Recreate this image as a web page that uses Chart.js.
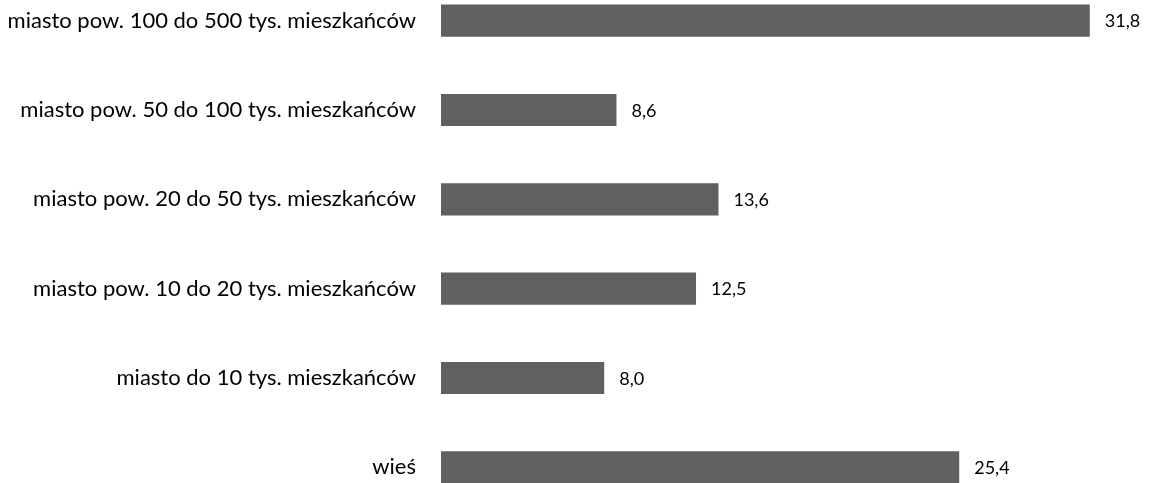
<!DOCTYPE html>
<html>
<head>
<meta charset="utf-8">
<script src="https://cdn.jsdelivr.net/npm/chart.js@4/dist/chart.umd.min.js"></script>
<style>
  html, body { margin: 0; padding: 0; background: #fff; overflow: hidden; }
  #wrap { position: relative; width: 1151px; height: 483px; overflow: hidden; }
  #chart { position: absolute; left: 0; top: -24px; }
</style>
</head>
<body>
<div id="wrap">
  <canvas id="chart" width="1151" height="536"></canvas>
</div>
<script>
// Kategorie i wartości (%)
var categories = [
    'miasto pow. 100 do 500 tys. mieszkańców',
    'miasto pow. 50 do 100 tys. mieszkańców',
    'miasto pow. 20 do 50 tys. mieszkańców',
    'miasto pow. 10 do 20 tys. mieszkańców',
    'miasto do 10 tys. mieszkańców',
    'wieś'
];
var values = [31.8, 8.6, 13.6, 12.5, 8.0, 25.4];

var FONT = 'Lato, sans-serif';

// Etykiety wartości po prawej stronie słupków
var valueLabels = {
    id: 'valueLabels',
    afterDatasetsDraw: function(chart) {
        var ctx = chart.ctx;
        var meta = chart.getDatasetMeta(0);
        ctx.save();
        ctx.fillStyle = '#000';
        ctx.font = '18px ' + FONT;
        ctx.textAlign = 'left';
        ctx.textBaseline = 'middle';
        meta.data.forEach(function(bar, i) {
            var txt = values[i].toFixed(1).replace('.', ',');
            ctx.fillText(txt, bar.x + 15, bar.y + 1);
        });
        ctx.restore();
    }
};

var ctx = document.getElementById('chart').getContext('2d');
var chart = new Chart(ctx, {
    type: 'bar',
    data: {
        labels: categories,
        datasets: [{
            data: values,
            backgroundColor: '#606060',
            borderWidth: 0,
            barPercentage: 0.9,
            categoryPercentage: 0.4
        }]
    },
    options: {
        indexAxis: 'y',
        responsive: false,
        animation: false,
        devicePixelRatio: 1,
        layout: { padding: 0 },
        plugins: {
            legend: { display: false },
            tooltip: { enabled: false }
        },
        scales: {
            x: {
                display: false,
                min: 0,
                max: 34.8
            },
            y: {
                grid: { display: false, drawTicks: false },
                border: { display: false },
                ticks: {
                    color: '#000',
                    padding: 25,
                    font: { family: FONT, size: 22 }
                },
                afterFit: function(scale) {
                    scale.width = 441;
                    scale.paddingTop = 0;
                    scale.paddingBottom = 0;
                }
            }
        }
    },
    plugins: [valueLabels]
});
</script>
</body>
</html>
